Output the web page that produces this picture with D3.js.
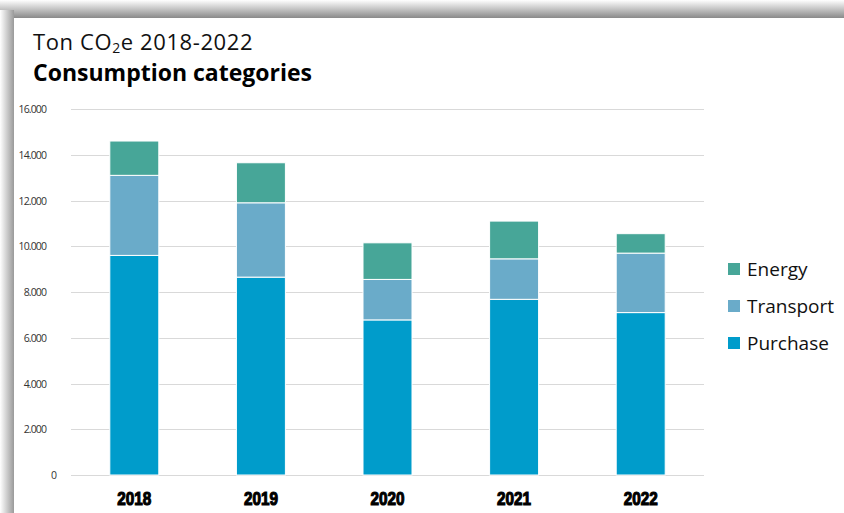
<!DOCTYPE html>
<html>
<head>
<meta charset="utf-8">
<script src="https://cdn.jsdelivr.net/npm/d3@7"></script>
<style>
  body { margin: 0; background: #fff; }
  svg { display: block; }
</style>
</head>
<body>
<div id="root"></div>
<script>
// data
const years = ["2018", "2019", "2020", "2021", "2022"];
const purchase = [9600, 8650, 6780, 7680, 7100];
const transport = [3500, 3250, 1770, 1770, 2600];
const energy = [1500, 1750, 1600, 1650, 850];
const seriesNames = ["Purchase", "Transport", "Energy"];
const seriesColors = ["#009ccb", "#6aabc9", "#47a698"];
const yTicks = [0, 2000, 4000, 6000, 8000, 10000, 12000, 14000, 16000];

const W = 844, H = 513;
const svg = d3.select("#root").append("svg").attr("width", W).attr("height", H);

// card shadow
const defs = svg.append("defs");
const gTop = defs.append("linearGradient").attr("id", "shTop").attr("x1", 0).attr("y1", 0).attr("x2", 0).attr("y2", 1);
gTop.append("stop").attr("offset", "0%").attr("stop-color", "#ffffff");
gTop.append("stop").attr("offset", "100%").attr("stop-color", "#8a8a8a");
const gLeft = defs.append("linearGradient").attr("id", "shLeft").attr("x1", 0).attr("y1", 0).attr("x2", 1).attr("y2", 0);
gLeft.append("stop").attr("offset", "0%").attr("stop-color", "#ffffff");
gLeft.append("stop").attr("offset", "100%").attr("stop-color", "#9a9a9a");

svg.append("rect").attr("x", 0).attr("y", 0).attr("width", W).attr("height", 18).attr("fill", "url(#shTop)");
svg.append("rect").attr("x", 0).attr("y", 10).attr("width", 14).attr("height", H).attr("fill", "url(#shLeft)");
svg.append("rect").attr("x", 14).attr("y", 18).attr("width", W - 14).attr("height", H - 18).attr("fill", "#fff");

// titles
const title = svg.append("text")
  .attr("x", 33).attr("y", 50)
  .style("font-family", "'Open Sans', 'Noto Sans', sans-serif")
  .style("font-size", "22px")
  .style("font-weight", 400)
  .style("letter-spacing", "0.6px")
  .attr("fill", "#111");
title.append("tspan").text("Ton CO");
title.append("tspan").attr("dy", 3).style("font-size", "14px").text("2");
title.append("tspan").attr("dy", -3).text("e 2018-2022");

svg.append("text")
  .attr("x", 33).attr("y", 81)
  .style("font-family", "'Open Sans', 'Noto Sans', sans-serif")
  .style("font-size", "23px")
  .style("font-weight", 700)
  .attr("fill", "#000")
  .text("Consumption categories");

// scales
const x = d3.scaleBand().domain(years).range([71, 704]).paddingInner(0.613).paddingOuter(0.3065);
const y = d3.scaleLinear().domain([0, 16000]).range([475, 109]);

// gridlines
svg.append("g").selectAll("line").data(yTicks).enter().append("line")
  .attr("x1", 71).attr("x2", 704)
  .attr("y1", d => Math.round(y(d)) + 0.5).attr("y2", d => Math.round(y(d)) + 0.5)
  .attr("stroke", "#d9d9d9").attr("stroke-width", 1.2);

// y tick labels
svg.append("g").selectAll("text").data(yTicks).enter().append("text")
  .attr("x", d => d === 0 ? 56 : 46)
  .attr("y", d => y(d) + 4)
  .attr("text-anchor", "end")
  .style("font-family", "'Open Sans', 'Noto Sans', sans-serif")
  .style("font-size", "10.5px")
  .style("letter-spacing", "-0.9px")
  .attr("fill", "#333")
  .text(d => d3.format(",")(d).replace(/,/g, "."));

// stacked bars
const rows = years.map((yr, i) => ({ year: yr, Purchase: purchase[i], Transport: transport[i], Energy: energy[i] }));
const stack = d3.stack().keys(seriesNames)(rows);

svg.append("g").selectAll("g").data(stack).enter().append("g")
  .attr("fill", (d, i) => seriesColors[i])
  .selectAll("rect").data(d => d).enter().append("rect")
  .attr("x", d => x(d.data.year))
  .attr("width", x.bandwidth())
  .attr("y", d => y(d[1]))
  .attr("height", d => y(d[0]) - y(d[1]))
  .attr("stroke", "#fff").attr("stroke-width", 1);

// x labels
svg.append("g").selectAll("text").data(years).enter().append("text")
  .attr("x", d => x(d) + x.bandwidth() / 2)
  .attr("y", 505)
  .attr("text-anchor", "middle")
  .attr("textLength", 34).attr("lengthAdjust", "spacingAndGlyphs")
  .style("font-family", "'Liberation Sans', Arial, sans-serif")
  .style("font-size", "18px")
  .style("font-weight", 700)
  .attr("fill", "#000").attr("stroke", "#000").attr("stroke-width", 1.1)
  .text(d => d);

// legend
const legendOrder = ["Energy", "Transport", "Purchase"];
const leg = svg.append("g").selectAll("g").data(legendOrder).enter().append("g")
  .attr("transform", (d, i) => `translate(728, ${263 + i * 37})`);
leg.append("rect").attr("width", 12).attr("height", 12)
  .attr("fill", d => seriesColors[seriesNames.indexOf(d)]);
leg.append("text").attr("x", 19).attr("y", 13)
  .style("font-family", "'Open Sans', 'Noto Sans', sans-serif")
  .style("font-size", "19px")
  .attr("fill", "#111")
  .text(d => d);
</script>
</body>
</html>
